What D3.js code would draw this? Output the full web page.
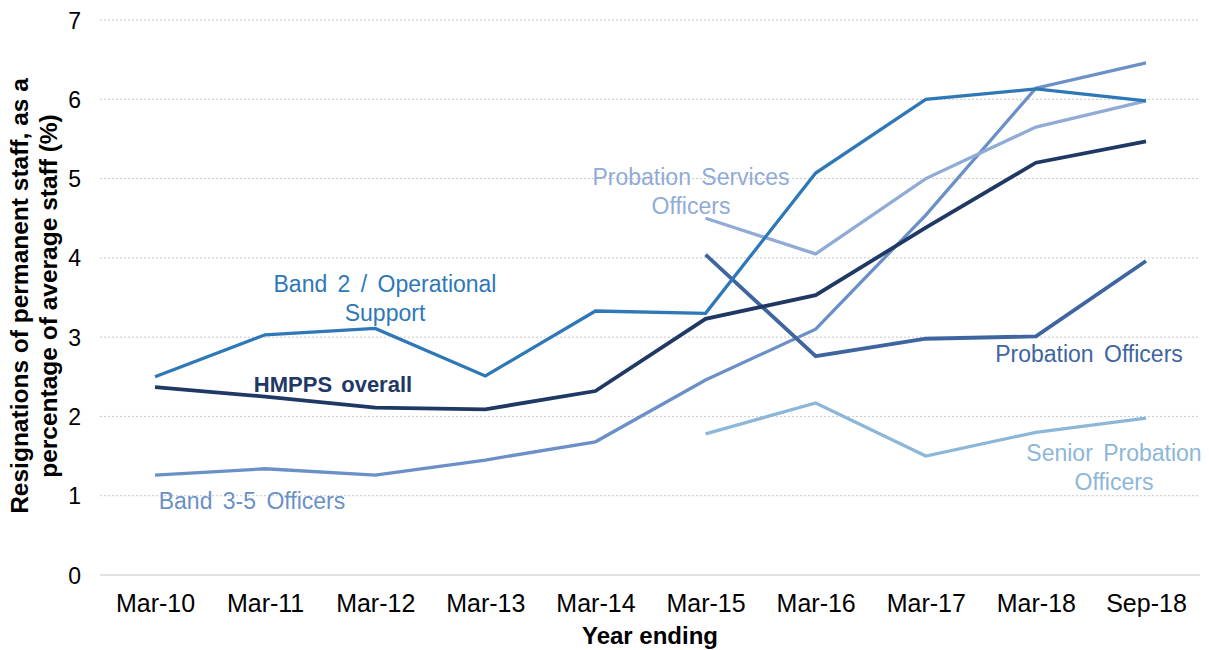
<!DOCTYPE html>
<html><head><meta charset="utf-8">
<script src="https://cdn.jsdelivr.net/npm/d3@7"></script>
<style>body{margin:0;background:#fff;}svg{display:block;font-family:"Liberation Sans",Arial,sans-serif;}</style>
</head><body>
<svg id="c" width="1209" height="650"></svg>
<script>
const categories = ["Mar-10","Mar-11","Mar-12","Mar-13","Mar-14","Mar-15","Mar-16","Mar-17","Mar-18","Sep-18"];
const band2 = [2.50,3.03,3.11,2.51,3.33,3.30,5.07,6.00,6.13,5.98];
const hmpps = [2.37,2.25,2.11,2.09,2.32,3.23,3.53,4.38,5.20,5.47];
const band35 = [1.26,1.34,1.26,1.45,1.68,2.46,3.10,4.54,6.14,6.46];
const pso = [null,null,null,null,null,4.50,4.05,5.00,5.65,5.98];
const po = [null,null,null,null,null,4.04,2.76,2.98,3.01,3.96];
const spo = [null,null,null,null,null,1.78,2.17,1.50,1.80,1.98];
const yTicks = [0,1,2,3,4,5,6,7];

const series = [
  {name:"band35", values:band35, color:"#6b90c8", w:3.3},
  {name:"spo", values:spo, color:"#8cb7d8", w:3.3},
  {name:"pso", values:pso, color:"#8fabd6", w:3.3},
  {name:"po", values:po, color:"#3f65a1", w:3.8},
  {name:"band2", values:band2, color:"#2e78b8", w:3.3},
  {name:"hmpps", values:hmpps, color:"#1f3864", w:3.8}
];

const svg = d3.select("#c");
const m = {l:100, r:1200, t:20, b:575};
const x = d3.scalePoint().domain(categories).range([m.l+55, m.r-54]);
const y = d3.scaleLinear().domain([0,7]).range([m.b, m.t]);

// gridlines
svg.append("g").selectAll("line").data(yTicks).join("line")
  .attr("x1", m.l).attr("x2", m.r)
  .attr("y1", d=>y(d)).attr("y2", d=>y(d))
  .attr("stroke", d=> d===0 ? "#d9d9d9" : "#c8c8c8")
  .attr("stroke-width", d=> d===0 ? 1.5 : 1)
  .attr("stroke-dasharray", d=> d===0 ? null : "2,2");

// y axis
const ya = svg.append("g").attr("transform", `translate(${m.l-19},0)`)
  .call(d3.axisLeft(y).tickValues(yTicks).tickSize(0).tickPadding(0).tickFormat(d3.format("d")));
ya.select(".domain").remove();
ya.selectAll("text").attr("font-size", 23).attr("fill", "#000").attr("font-family", "Liberation Sans, Arial, sans-serif").attr("dy", "0.35em");

// x axis
const xa = svg.append("g").attr("transform", `translate(0,${m.b+19})`)
  .call(d3.axisBottom(x).tickSize(0).tickPadding(0));
xa.select(".domain").remove();
xa.selectAll("text").attr("font-size", 25).attr("fill", "#000").attr("font-family", "Liberation Sans, Arial, sans-serif").attr("dy", "0.71em");

// axis titles
svg.append("text").attr("x", 650).attr("y", 644).attr("text-anchor","middle")
  .attr("font-size", 24).attr("font-weight","bold").text("Year ending");
const yt = svg.append("text").attr("transform","translate(0,296) rotate(-90)")
  .attr("text-anchor","middle").attr("font-size", 24.5).attr("font-weight","bold");
yt.append("tspan").attr("x",0).attr("y",28).text("Resignations of permanent staff, as a");
yt.append("tspan").attr("x",0).attr("y",57).text("percentage of average staff (%)");

// lines
const line = d3.line().defined(d=>d.v!=null).x(d=>x(d.c)).y(d=>y(d.v));
svg.append("g").selectAll("path").data(series).join("path")
  .attr("d", s=>line(s.values.map((v,i)=>({c:categories[i], v}))))
  .attr("fill","none").attr("stroke", s=>s.color).attr("stroke-width", s=>s.w)
  .attr("stroke-linejoin","miter");

// labels
const labels = [
  {lines:["Band 2 / Operational","Support"], x:385, y:292, color:"#2e78b8"},
  {lines:["HMPPS overall"], x:333, y:392, color:"#1f3864", bold:true, fs:22},
  {lines:["Band 3-5 Officers"], x:252, y:509, color:"#6b90c8"},
  {lines:["Probation Services","Officers"], x:691, y:185, color:"#8fabd6"},
  {lines:["Probation Officers"], x:1089, y:362, color:"#3f65a1"},
  {lines:["Senior Probation","Officers"], x:1114, y:461, color:"#8cb7d8"}
];
labels.forEach(l=>{
  const t = svg.append("text").attr("text-anchor","middle").attr("font-size", l.fs||23)
    .attr("fill", l.color).attr("font-weight", l.bold?"bold":"normal").attr("word-spacing", l.bold?3:4);
  l.lines.forEach((s,i)=> t.append("tspan").attr("x", l.x).attr("y", l.y + i*29).text(s));
});
</script>
</body></html>
